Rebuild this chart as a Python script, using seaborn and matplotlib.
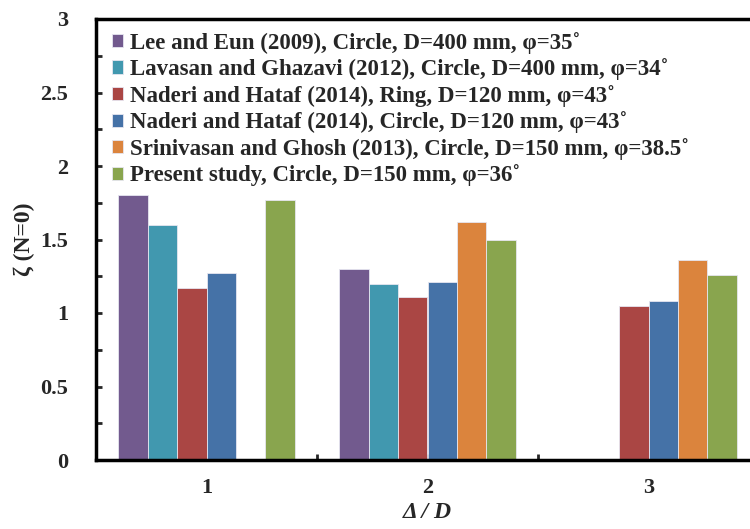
import numpy as np
import pandas as pd
import matplotlib
matplotlib.use("Agg")
import matplotlib.pyplot as plt
from matplotlib.ticker import MultipleLocator, FixedLocator
import seaborn as sns

# Datos
grupos = ["1", "2", "3"]
series = [
    "Lee and Eun (2009), Circle, D=400 mm, φ=35˚",
    "Lavasan and Ghazavi (2012), Circle, D=400 mm, φ=34˚",
    "Naderi and Hataf (2014), Ring, D=120 mm, φ=43˚",
    "Naderi and Hataf (2014), Circle, D=120 mm, φ=43˚",
    "Srinivasan and Ghosh (2013), Circle, D=150 mm, φ=38.5˚",
    "Present study, Circle, D=150 mm, φ=36˚",
]
lee = [1.80, 1.30, np.nan]
lavasan = [1.60, 1.20, np.nan]
naderi_ring = [1.17, 1.11, 1.05]
naderi_circle = [1.27, 1.21, 1.08]
srinivasan = [np.nan, 1.62, 1.36]
present = [1.77, 1.50, 1.26]
colores = ["#725A8E", "#4198AF", "#AA4644", "#4572A7", "#DB843D", "#89A54E"]

valores = [lee, lavasan, naderi_ring, naderi_circle, srinivasan, present]
filas = []
for nombre, vals in zip(series, valores):
    for g, v in zip(grupos, vals):
        filas.append({"grupo": g, "serie": nombre, "zeta": v})
df = pd.DataFrame(filas)

sns.set_style("white")
plt.rcParams["font.family"] = ["Liberation Serif", "DejaVu Serif"]
plt.rcParams["font.weight"] = "bold"

fig = plt.figure(figsize=(7.5, 5.29), dpi=100)
# el eje continua mas alla del borde derecho (recorte original)
ax = fig.add_axes([96 / 750, (529 - 460) / 529, (759 - 96) / 750, (460 - 19) / 529])

sns.barplot(data=df, x="grupo", y="zeta", hue="serie", hue_order=series,
            palette=colores, saturation=1, width=0.8, edgecolor="#e6e6f0",
            linewidth=0.6, errorbar=None, ax=ax)

ax.set_xlim(-0.5, 2.5)
ax.set_ylim(0, 3)
ax.yaxis.set_minor_locator(MultipleLocator(0.25))
ax.xaxis.set_minor_locator(FixedLocator([0.5, 1.5]))
ax.set_yticks([0, 0.5, 1, 1.5, 2, 2.5, 3])
ax.set_yticklabels(["0", "0.5", "1", "1.5", "2", "2.5", "3"])
ax.tick_params(axis="both", which="both", direction="in", length=4, width=2,
               labelsize=16, bottom=True, left=True)
ax.tick_params(axis="y", pad=20)
ax.tick_params(axis="x", pad=13)
for lbl in ax.get_xticklabels() + ax.get_yticklabels():
    lbl.set_fontweight("bold")

for s in ax.spines.values():
    s.set_linewidth(2.5)
    s.set_color("black")

ax.set_xlabel("Δ / D", fontsize=17, fontweight="bold", fontstyle="italic", labelpad=3)
ax.set_ylabel("ζ (N=0)", fontsize=17, fontweight="bold", labelpad=4)

leg = ax.legend(loc="upper left", bbox_to_anchor=(0.005, 1.0), frameon=False,
                fontsize=16.5, handlelength=0.5, handleheight=0.5,
                handletextpad=0.3, labelspacing=0.2, borderaxespad=0.15)
for t in leg.get_texts():
    t.set_fontweight("bold")

fig.savefig("out.png", dpi=100)
